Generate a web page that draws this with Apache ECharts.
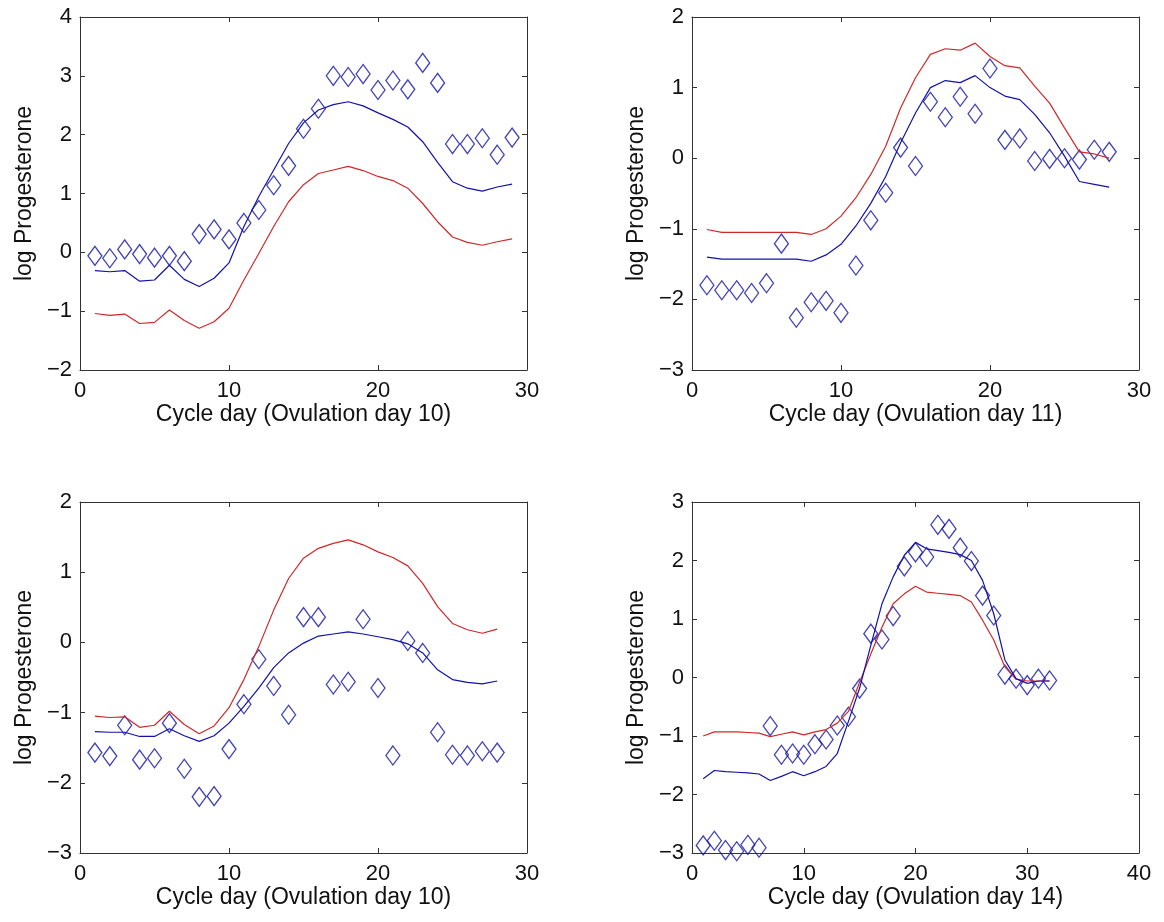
<!DOCTYPE html>
<html><head><meta charset="utf-8">
<script src="https://cdn.jsdelivr.net/npm/echarts@6/dist/echarts.min.js"></script>
<style>html,body{margin:0;padding:0;background:#fff}#c{width:1164px;height:922px}</style>
</head><body><div id="c"></div>
<script>
// ---- Data ----
const days1 = [1,2,3,4,5,6,7,8,9,10,11,12,13,14,15,16,17,18,19,20,21,22,23,24,25,26,27,28,29];
const obs1  = [-0.06,-0.10,0.05,-0.03,-0.09,-0.06,-0.15,0.31,0.39,0.22,0.50,0.72,1.14,1.47,2.10,2.44,3.00,2.98,3.03,2.76,2.92,2.77,3.22,2.88,1.84,1.84,1.94,1.66,1.95];
const blue1 = [-0.31,-0.33,-0.31,-0.49,-0.47,-0.22,-0.46,-0.58,-0.44,-0.18,0.44,0.95,1.40,1.85,2.20,2.42,2.51,2.56,2.49,2.37,2.26,2.13,1.88,1.53,1.20,1.09,1.04,1.11,1.16];
const red1  = [-1.04,-1.07,-1.05,-1.21,-1.19,-0.98,-1.16,-1.29,-1.18,-0.95,-0.47,-0.02,0.44,0.86,1.15,1.34,1.40,1.46,1.39,1.29,1.22,1.09,0.83,0.52,0.26,0.17,0.12,0.18,0.23];

const days2 = [1,2,3,4,5,6,7,8,9,10,11,12,13,14,15,16,17,18,19,20,21,22,23,24,25,26,27,28];
const obs2  = [-1.80,-1.87,-1.87,-1.91,-1.77,-1.21,-2.26,-2.04,-2.02,-2.19,-1.52,-0.88,-0.49,0.15,-0.11,0.80,0.58,0.87,0.63,1.27,0.26,0.28,-0.04,-0.01,0.00,-0.02,0.12,0.09];
const blue2 = [-1.40,-1.43,-1.43,-1.43,-1.43,-1.43,-1.43,-1.46,-1.37,-1.22,-0.96,-0.64,-0.26,0.22,0.64,1.00,1.10,1.07,1.17,1.00,0.88,0.83,0.62,0.36,0.03,-0.33,-0.37,-0.41];
const red2  = [-1.01,-1.05,-1.05,-1.05,-1.05,-1.05,-1.05,-1.08,-1.00,-0.82,-0.56,-0.23,0.17,0.71,1.14,1.47,1.55,1.53,1.63,1.44,1.31,1.28,1.02,0.78,0.43,0.09,0.06,0.00];

const days3 = [1,2,3,4,5,6,7,8,9,10,11,12,13,14,15,16,17,18,19,20,21,22,23,24,25,26,27,28];
const obs3  = [-1.57,-1.62,-1.18,-1.67,-1.65,-1.15,-1.80,-2.20,-2.19,-1.52,-0.88,-0.24,-0.62,-1.03,0.36,0.36,-0.60,-0.56,0.33,-0.65,-1.61,0.02,-0.15,-1.28,-1.60,-1.61,-1.55,-1.57];
const blue3 = [-1.27,-1.28,-1.28,-1.34,-1.34,-1.23,-1.33,-1.41,-1.33,-1.15,-0.91,-0.65,-0.36,-0.15,-0.01,0.09,0.12,0.15,0.12,0.08,0.04,-0.02,-0.15,-0.39,-0.53,-0.57,-0.59,-0.55];
const red3  = [-1.05,-1.07,-1.06,-1.21,-1.18,-0.98,-1.17,-1.30,-1.19,-0.93,-0.53,-0.06,0.46,0.91,1.20,1.34,1.41,1.46,1.39,1.29,1.21,1.09,0.84,0.51,0.27,0.18,0.13,0.19];

const days4 = [1,2,3,4,5,6,7,8,9,10,11,12,13,14,15,16,17,18,19,20,21,22,23,24,25,26,27,28,29,30,31,32];
const obs4  = [-2.87,-2.79,-2.95,-2.97,-2.86,-2.91,-0.83,-1.32,-1.30,-1.32,-1.14,-1.06,-0.82,-0.67,-0.19,0.75,0.65,1.05,1.90,2.14,2.06,2.61,2.54,2.22,1.99,1.40,1.06,0.05,-0.02,-0.13,-0.02,-0.05];
const blue4 = [-1.73,-1.59,-1.61,-1.62,-1.63,-1.65,-1.76,-1.69,-1.61,-1.68,-1.61,-1.52,-1.30,-0.75,-0.18,0.55,1.26,1.72,2.09,2.31,2.20,2.17,2.14,2.10,2.00,1.66,1.09,0.30,-0.02,-0.10,-0.06,-0.06];
const red4  = [-1.00,-0.93,-0.93,-0.93,-0.94,-0.95,-1.01,-0.97,-0.93,-0.98,-0.93,-0.89,-0.78,-0.58,-0.08,0.40,0.86,1.26,1.43,1.56,1.46,1.44,1.42,1.40,1.29,0.98,0.64,0.18,-0.03,-0.06,-0.06,-0.06];

const xTitles = ['Cycle day (Ovulation day 10)','Cycle day (Ovulation day 11)','Cycle day (Ovulation day 10)','Cycle day (Ovulation day 14)'];
const yTitle = 'log Progesterone';
const xMax = [30,30,30,40];
const yMin = [-2,-3,-3,-3];
const yMax = [4,2,2,3];

// ---- Layout ----
const FONT = '"Liberation Sans", Arial, Helvetica, sans-serif';
const BLUE = '#1212a8', RED = '#d02828', AX = '#333';
const grids = [
  {left:80, top:17, width:447, height:353},
  {left:692, top:17, width:447, height:353},
  {left:80, top:502, width:447, height:351},
  {left:692, top:502, width:447, height:351}
];
const panels = [[days1,obs1,blue1,red1],[days2,obs2,blue2,red2],[days3,obs3,blue3,red3],[days4,obs4,blue4,red4]];
const fmt = v => String(v).replace('-', '\u2212');
const zip = (a,b) => a.map((d,i)=>[d,b[i]]);

const xAxis = [], yAxis = [], series = [];
panels.forEach((p,i) => {
  const base = {
    gridIndex:i, splitLine:{show:false},
    axisLine:{show:true, onZero:false, lineStyle:{color:AX, width:1}},
    axisTick:{show:true, inside:true, length:5, lineStyle:{color:AX}},
  };
  xAxis.push(Object.assign({}, base, {type:'value', min:0, max:xMax[i], interval:10, position:'bottom',
    name:xTitles[i], nameLocation:'middle', nameGap:33,
    nameTextStyle:{fontFamily:FONT, fontSize:23, color:'#111'},
    axisLabel:{fontFamily:FONT, fontSize:22, color:'#111', margin:10, formatter:fmt}}));
  xAxis.push(Object.assign({}, base, {type:'value', min:0, max:xMax[i], interval:10, position:'top',
    axisLabel:{show:false}}));
  yAxis.push(Object.assign({}, base, {type:'value', min:yMin[i], max:yMax[i], interval:1, position:'left',
    name:yTitle, nameLocation:'middle', nameGap:44, nameRotate:90,
    nameTextStyle:{fontFamily:FONT, fontSize:23, color:'#111'},
    axisLabel:{fontFamily:FONT, fontSize:22, color:'#111', margin:8, formatter:fmt}}));
  yAxis.push(Object.assign({}, base, {type:'value', min:yMin[i], max:yMax[i], interval:1, position:'right',
    axisLabel:{show:false}}));
  const xi = 2*i, yi = 2*i;
  series.push({type:'line', xAxisIndex:xi, yAxisIndex:yi, data:zip(p[0],p[3]), symbol:'none',
    lineStyle:{color:RED, width:1.2}, silent:true, animation:false});
  series.push({type:'line', xAxisIndex:xi, yAxisIndex:yi, data:zip(p[0],p[2]), symbol:'none',
    lineStyle:{color:BLUE, width:1.2}, silent:true, animation:false});
  series.push({type:'scatter', xAxisIndex:xi, yAxisIndex:yi, data:zip(p[0],p[1]), symbol:'diamond',
    symbolSize:[14,19], itemStyle:{color:'rgba(0,0,0,0)', borderColor:BLUE, borderWidth:1.3},
    silent:true, animation:false});
});

const chart = echarts.init(document.getElementById('c'), null, {renderer:'canvas'});
chart.setOption({
  animation:false, backgroundColor:'#fff',
  grid:grids.map(g=>Object.assign({containLabel:false, show:false}, g)),
  xAxis, yAxis, series
});
</script>
</body></html>
